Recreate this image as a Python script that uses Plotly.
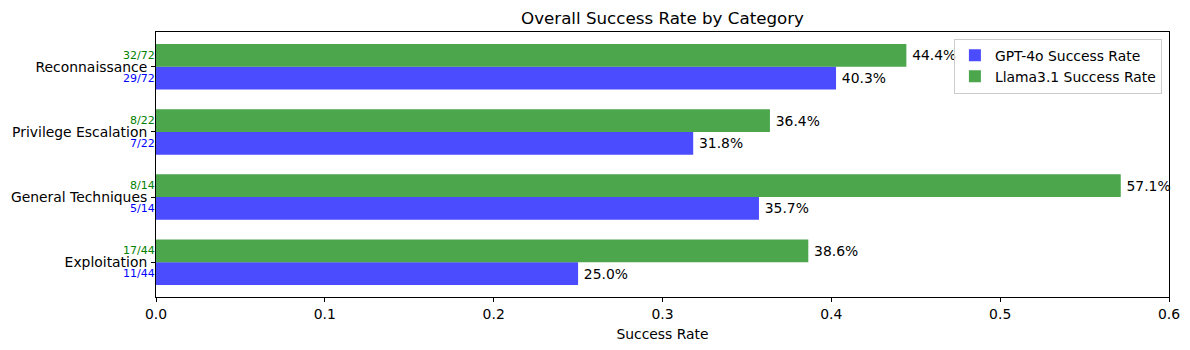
import plotly.graph_objects as go

categories = ["Exploitation", "General Techniques", "Privilege Escalation", "Reconnaissance"]
gpt_success = [11, 5, 7, 29]
llama_success = [17, 8, 8, 32]
totals = [44, 14, 22, 72]
x_ticks = [0.0, 0.1, 0.2, 0.3, 0.4, 0.5, 0.6]

gpt_rate = [s / t for s, t in zip(gpt_success, totals)]
llama_rate = [s / t for s, t in zip(llama_success, totals)]
ypos = list(range(len(categories)))

FONT = "DejaVu Sans"
BLUE = "rgba(0,0,255,0.7)"
GREEN = "rgba(0,128,0,0.7)"
BAR_H = 0.35

# page has an 8px body margin; figure sized so the plot lands where the reference has it
W, H = 1182, 342
L, R, T, B = 148, 21, 24, 53

fig = go.Figure()
fig.add_trace(go.Bar(
    y=[y - BAR_H / 2 for y in ypos], x=gpt_rate, orientation="h", width=BAR_H,
    name="GPT-4o Success Rate", marker=dict(color=BLUE, line=dict(width=0)),
    text=[f"\u2009{r*100:.1f}%" for r in gpt_rate], textposition="outside",
    textfont=dict(family=FONT, size=13.9, color="black"),
    constraintext="none", cliponaxis=False,
))
fig.add_trace(go.Bar(
    y=[y + BAR_H / 2 for y in ypos], x=llama_rate, orientation="h", width=BAR_H,
    name="Llama3.1 Success Rate", marker=dict(color=GREEN, line=dict(width=0)),
    text=[f"\u2009{r*100:.1f}%" for r in llama_rate], textposition="outside",
    textfont=dict(family=FONT, size=13.9, color="black"),
    constraintext="none", cliponaxis=False,
))

annotations = []
for y, g, l, t in zip(ypos, gpt_success, llama_success, totals):
    annotations.append(dict(x=0, y=y + BAR_H / 2, xref="x", yref="y", text=f"{l}/{t}",
                            showarrow=False, xanchor="right", yanchor="middle",
                            font=dict(family=FONT, size=11, color="green"), xshift=1))
    annotations.append(dict(x=0, y=y - BAR_H / 2, xref="x", yref="y", text=f"{g}/{t}",
                            showarrow=False, xanchor="right", yanchor="middle",
                            font=dict(family=FONT, size=11, color="blue"), xshift=1))

fig.update_layout(
    width=W, height=H,
    margin=dict(l=L, r=R, t=T, b=B, autoexpand=False),
    plot_bgcolor="white", paper_bgcolor="white",
    barmode="overlay",
    font=dict(family=FONT, size=13.9, color="black"),
    title=dict(text="Overall Success Rate by Category", x=(L + W - R) / 2 / W, xanchor="center",
               y=1 - 10 / H, yanchor="middle", font=dict(family=FONT, size=16.7, color="black")),
    xaxis=dict(range=[0, 0.6], tickvals=x_ticks, ticktext=[f"{v:.1f}" for v in x_ticks],
               ticks="outside", ticklen=4, tickcolor="black", showline=True, linecolor="black",
               linewidth=1, mirror=True, showgrid=False, zeroline=False, automargin=False,
               title=dict(text="Success Rate", font=dict(family=FONT, size=13.9), standoff=8),
               tickfont=dict(family=FONT, size=13.9)),
    yaxis=dict(range=[-0.535, 3.535], tickvals=ypos, ticktext=categories,
               ticks="outside", ticklen=4, tickcolor="black", showline=True, linecolor="black",
               linewidth=1, mirror=True, showgrid=False, zeroline=False, automargin=False,
               ticklabelstandoff=1,
               tickfont=dict(family=FONT, size=13.9)),
    legend=dict(x=0.993, y=0.975, xanchor="right", yanchor="top", bordercolor="#cccccc",
                borderwidth=1, bgcolor="rgba(255,255,255,0.8)", traceorder="normal",
                font=dict(family=FONT, size=13.9)),
    annotations=annotations,
)

fig.write_html("out.html")
